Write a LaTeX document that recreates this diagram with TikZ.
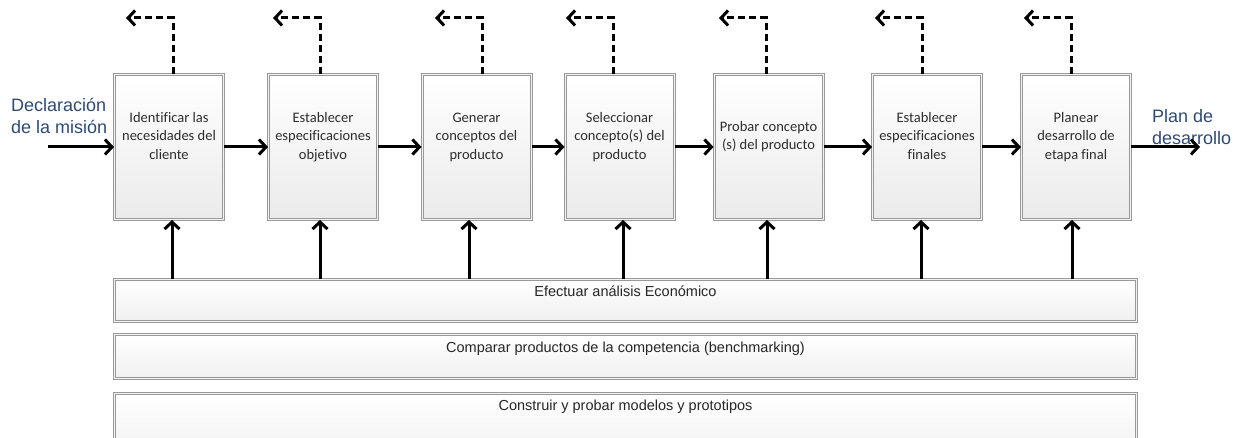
\documentclass[tikz,border=0pt]{standalone}
\usepackage{fontspec}
\setmainfont{Liberation Sans}
\newfontfamily\stagefont[Ligatures=NoCommon]{Carlito}
\usetikzlibrary{arrows.meta}
\definecolor{misblue}{RGB}{46,74,116}
\definecolor{stagetext}{RGB}{45,45,45}
\newcommand{\stagelines}[1]{\begin{tabular}{@{}c@{}}#1\end{tabular}}
\begin{document}
\begin{tikzpicture}[x=1pt,y=-1pt,
    stage/.style={draw=gray!80,line width=1pt,double=gray!10,double distance=1pt,
      top color=white,bottom color=gray!16,inner sep=0pt,minimum width=109pt,
      text height=66pt,text depth=79pt,text=stagetext,
      font=\stagefont\fontsize{14.5}{18.5}\selectfont},
    bar/.style={draw=gray!80,line width=1pt,double=gray!10,double distance=1pt,
      top color=white,bottom color=gray!12,inner sep=0pt,minimum width=1022pt,
      anchor=north,text=black!85,font=\fontsize{14.5}{17}\selectfont},
    outside/.style={inner sep=0pt,anchor=west,align=left,text=misblue,
      font=\fontsize{18}{22}\selectfont},
    flow/.style={line width=3pt,-{Straight Barb[length=7pt,width=15pt]}},
    feedback/.style={flow,dash pattern=on 7pt off 4pt}]
  \useasboundingbox (0,0) rectangle (1240,438);
  \node[stage] (s1) at (169,147) {\stagelines{Identificar las\\necesidades del\\cliente}};
  \node[stage] (s2) at (323,147) {\stagelines{Establecer\\especificaciones\\objetivo}};
  \node[stage] (s3) at (476.5,147) {\stagelines{Generar\\conceptos del\\producto}};
  \node[stage] (s4) at (619.5,147) {\stagelines{Seleccionar\\concepto(s) del\\producto}};
  \node[stage] (s5) at (768.5,147) {\stagelines{Probar concepto\\(s) del producto}};
  \node[stage] (s6) at (927,147) {\stagelines{Establecer\\especificaciones\\finales}};
  \node[stage] (s7) at (1076,147) {\stagelines{Planear\\desarrollo de\\etapa final}};
  \node[bar,text height=16.6pt,text depth=24.6pt] (eco) at (625.5,279.4)
    {Efectuar análisis Económico};
  \node[bar,text height=17.6pt,text depth=25.6pt] (comp) at (625.5,334.4)
    {Comparar productos de la competencia (benchmarking)};
  \node[bar,text height=16.6pt,text depth=50pt] (cons) at (625.5,393.4)
    {Construir y probar modelos y prototipos};
  \node[outside] (mis) at (11,116) {Declaración\\de la misión};
  \node[outside] (plan) at (1152,127) {Plan de\\desarrollo};
  \coordinate (in) at (48,147);
  \coordinate (out) at (1200,147);
  \draw[flow] (in) -- (s1);
  \draw[flow] (s1) -- (s2);
  \draw[flow] (s2) -- (s3);
  \draw[flow] (s3) -- (s4);
  \draw[flow] (s4) -- (s5);
  \draw[flow] (s5) -- (s6);
  \draw[flow] (s6) -- (s7);
  \draw[flow] (s7) -- (out);
  \draw[feedback] ([xshift=4pt]s1.north) |- ++(-47,-56);
  \draw[feedback] ([xshift=-3pt]s2.north) |- ++(-47,-56);
  \draw[feedback] ([xshift=5.5pt]s3.north) |- ++(-47,-56);
  \draw[feedback] ([xshift=-6.5pt]s4.north) |- ++(-47,-56);
  \draw[feedback] ([xshift=-2.5pt]s5.north) |- ++(-47,-56);
  \draw[feedback] ([xshift=-5pt]s6.north) |- ++(-47,-56);
  \draw[feedback] ([xshift=-5pt]s7.north) |- ++(-47,-56);
  \coordinate (u1) at (172,0);
  \coordinate (u2) at (320,0);
  \coordinate (u3) at (469,0);
  \coordinate (u4) at (623,0);
  \coordinate (u5) at (767,0);
  \coordinate (u6) at (921,0);
  \coordinate (u7) at (1072,0);
  \draw[flow] (u1 |- eco.north) -- (u1 |- s1.south);
  \draw[flow] (u2 |- eco.north) -- (u2 |- s2.south);
  \draw[flow] (u3 |- eco.north) -- (u3 |- s3.south);
  \draw[flow] (u4 |- eco.north) -- (u4 |- s4.south);
  \draw[flow] (u5 |- eco.north) -- (u5 |- s5.south);
  \draw[flow] (u6 |- eco.north) -- (u6 |- s6.south);
  \draw[flow] (u7 |- eco.north) -- (u7 |- s7.south);
\end{tikzpicture}
\end{document}
